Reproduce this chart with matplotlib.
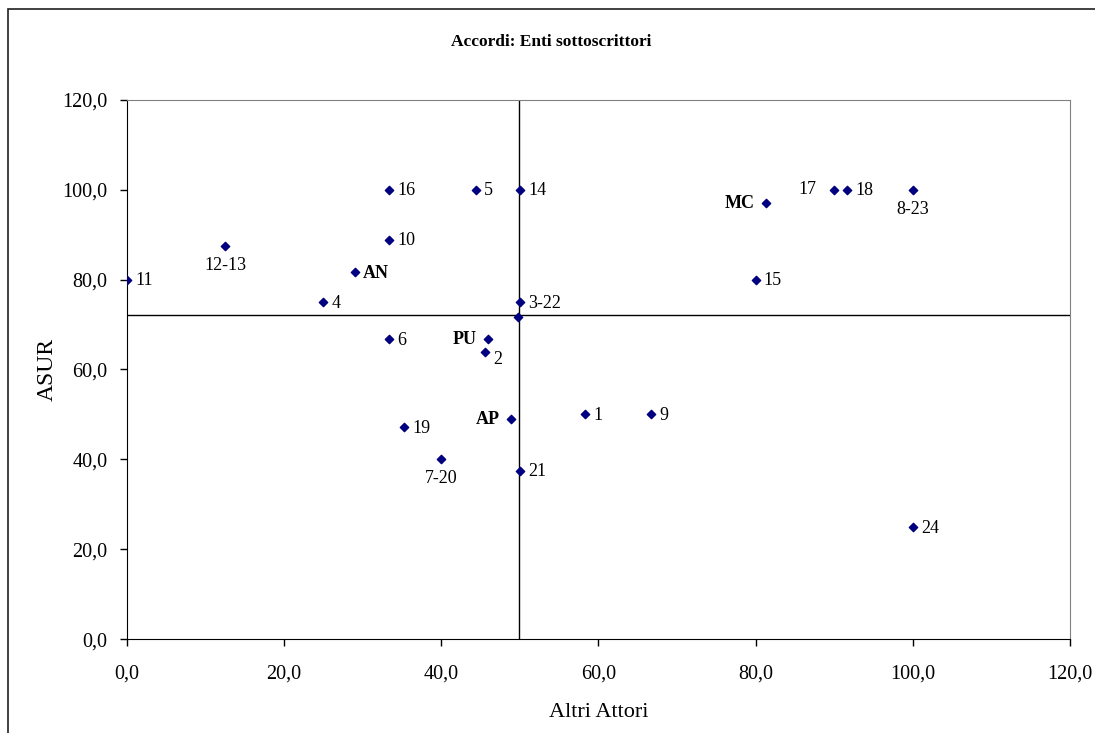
import matplotlib
matplotlib.use("Agg")
import matplotlib.pyplot as plt
from matplotlib.ticker import FuncFormatter, MultipleLocator
from matplotlib.patches import Rectangle

# data: x = Altri Attori, y = ASUR
labels = ["11", "12-13", "4", "AN", "16", "10", "6", "19", "7-20", "5",
          "PU", "2", "AP", "14", "3-22", "", "21", "1", "9", "MC",
          "15", "17", "18", "8-23", "24"]
x_vals = [0.0, 12.5, 25.0, 29.0, 33.3, 33.3, 33.3, 35.3, 40.0, 44.4,
          45.9, 45.6, 48.9, 50.0, 50.0, 49.8, 50.0, 58.3, 66.7, 81.3,
          80.0, 90.0, 91.7, 100.0, 100.0]
y_vals = [80.0, 87.5, 75.0, 81.7, 100.0, 88.9, 66.7, 47.1, 40.0, 100.0,
          66.7, 63.8, 48.9, 100.0, 75.0, 71.6, 37.5, 50.0, 50.0, 97.0,
          80.0, 100.0, 100.0, 100.0, 25.0]
mean_x = 49.9
mean_y = 72.0

bold_labels = ["AN", "PU", "AP", "MC"]
# where the label sits relative to its marker
placement = {"12-13": "below", "7-20": "below", "8-23": "below",
             "PU": "left", "AP": "left", "MC": "left", "17": "left17"}

plt.rcParams["font.family"] = ["Liberation Serif", "DejaVu Serif"]

fig = plt.figure(figsize=(10.95, 7.33), dpi=100)
ax = fig.add_axes([0.116, 0.128, 0.861, 0.736])

ax.scatter(x_vals, y_vals, marker="D", s=18, color="#000080", zorder=3)
ax.axvline(mean_x, color="black", lw=1.0, zorder=2)
ax.axhline(mean_y, color="black", lw=1.0, zorder=2)

for lab, x, y in zip(labels, x_vals, y_vals):
    if not lab:
        continue
    where = placement.get(lab, "right")
    weight = "bold" if lab in bold_labels else "normal"
    if where == "right":
        off, ha, va = (6, -1), "left", "center"
    elif where == "below":
        off, ha, va = (0, -8), "center", "top"
    elif where == "left17":
        off, ha, va = (-13, 0), "right", "center"
    else:
        off, ha, va = (-8, 0), "right", "center"
    if lab == "2":
        off = (6, -5)
    ax.annotate(lab, (x, y), xytext=off, textcoords="offset points",
                ha=ha, va=va, fontsize=13, fontweight=weight, color="black")

ax.set_xlim(0, 120)
ax.set_ylim(0, 120)
ax.xaxis.set_major_locator(MultipleLocator(20))
ax.yaxis.set_major_locator(MultipleLocator(20))
fmt = FuncFormatter(lambda v, p: f"{v:.1f}".replace(".", ","))
ax.xaxis.set_major_formatter(fmt)
ax.yaxis.set_major_formatter(fmt)
ax.tick_params(direction="out", length=5, width=1, labelsize=14.5)
ax.tick_params(axis="x", pad=13)
ax.tick_params(axis="y", pad=9)
ax.spines["top"].set_color("#808080")
ax.spines["right"].set_color("#808080")
ax.spines["left"].set_color("black")
ax.spines["bottom"].set_color("black")

ax.set_xlabel("Altri Attori", fontsize=16, labelpad=14)
ax.set_ylabel("ASUR", fontsize=17, labelpad=3)

fig.text(0.503, 0.943, "Accordi: Enti sottoscrittori", ha="center",
         va="center", fontsize=12.5, fontweight="bold")

fig.patches.append(Rectangle((8 / 1095, -0.05), 1.2, 1 - 9 / 733 + 0.05,
                             transform=fig.transFigure, fill=False,
                             edgecolor="#202020", lw=1.2))

fig.savefig("out.png", dpi=100)
